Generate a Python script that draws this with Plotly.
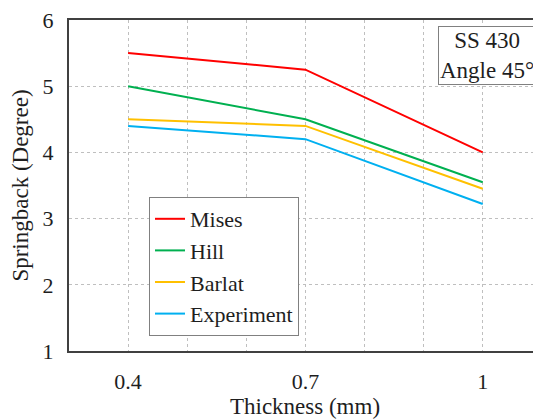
import plotly.graph_objects as go

thickness = [0.4, 0.7, 1.0]
mises = [5.5, 5.25, 4.0]
hill = [5.0, 4.5, 3.55]
barlat = [4.5, 4.4, 3.45]
experiment = [4.4, 4.2, 3.22]

series = [
    ("Mises", mises, "#FF0000"),
    ("Hill", hill, "#00B050"),
    ("Barlat", barlat, "#FFC000"),
    ("Experiment", experiment, "#00B0F0"),
]

FONT = "Liberation Serif"

fig = go.Figure()
for name, vals, col in series:
    fig.add_trace(go.Scatter(x=thickness, y=vals, name=name, mode="lines",
                             line=dict(color=col, width=2)))

grid = dict(showgrid=True, gridcolor="#BFBFBF", griddash="dot", gridwidth=1)

# page body has an 8px margin, so the figure is 533x411 placed at (8, 8)
L, T, W, H = 61, 12, 533, 411
PW, PH = W - L, 343 - T

fig.update_layout(
    width=W, height=H,
    margin=dict(l=L, r=0, t=T, b=H - 343),
    paper_bgcolor="white", plot_bgcolor="white",
    font=dict(family=FONT, size=22, color="#1e1e1e"),
    showlegend=True,
    legend=dict(x=(141 - L) / PW, y=(343 - 189) / PH, xanchor="left", yanchor="top",
                bordercolor="#808080", borderwidth=1, bgcolor="white",
                font=dict(size=22, family=FONT), itemwidth=30, tracegroupgap=0),
    xaxis=dict(range=[0.3, 1.0986], tickvals=[0.4, 0.7, 1.0],
               ticktext=["0.4", "0.7", "1"], automargin=False,
               showline=True, mirror=True, linecolor="#404040", linewidth=2,
               ticks="", ticklabelstandoff=10, ticklabeloverflow="allow",
               minor=dict(dtick=0.1, tick0=0.3, showgrid=True, gridcolor="#BFBFBF", griddash="dot"),
               title=dict(text="Thickness (mm)", standoff=9, font=dict(size=23)),
               zeroline=False, **grid),
    yaxis=dict(range=[1, 6], dtick=1, tick0=1, automargin=False,
               showline=True, mirror=False, linecolor="#404040", linewidth=2,
               ticks="", ticklabelstandoff=9, ticklabeloverflow="allow",
               title=dict(text="Springback (Degree)", standoff=10, font=dict(size=23)),
               zeroline=False, **grid),
)

fig.add_annotation(xref="paper", yref="paper", x=(430 - L) / PW, y=(343 - 18) / PH,
                   xanchor="left", yanchor="top",
                   text="SS 430<br>Angle 45°", showarrow=False,
                   font=dict(size=23, family=FONT), align="center",
                   bordercolor="#808080", borderwidth=1, bgcolor="white", borderpad=1)

fig.write_html("out.html")
